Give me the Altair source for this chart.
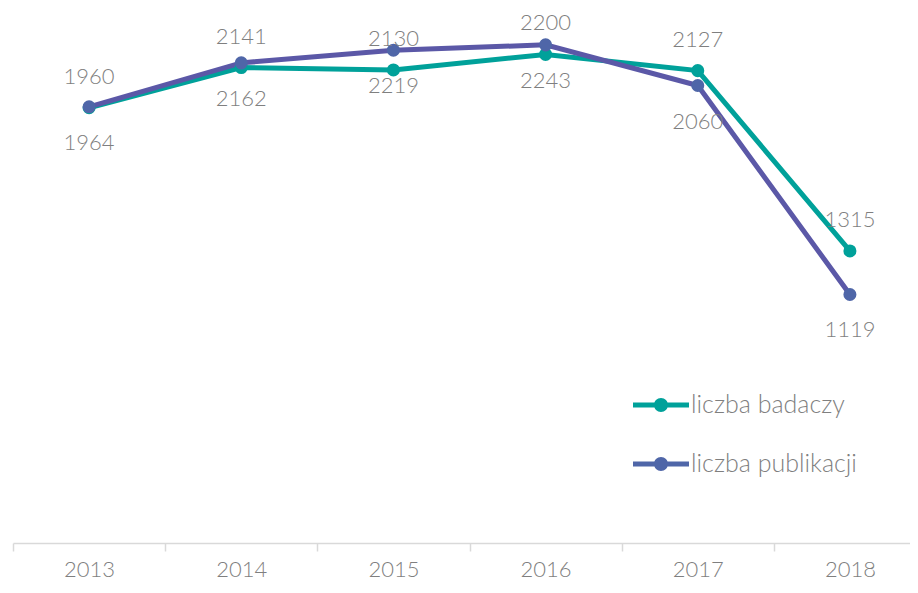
import altair as alt
import pandas as pd

years = ["2013", "2014", "2015", "2016", "2017", "2018"]
badacze = [1960, 2141, 2130, 2200, 2127, 1315]
publikacje = [1964, 2162, 2219, 2243, 2060, 1119]
series = ["liczba badaczy", "liczba publikacji"]
line_colors = ["#00A19A", "#5B58A7"]
point_colors = ["#00A19A", "#4F66A8"]

df = pd.DataFrame({
    "rok": years * 2,
    "wartosc": badacze + publikacje,
    "seria": [series[0]] * len(years) + [series[1]] * len(years),
})

FONT = "Lato"
GRAY = "#7F7F7F"

x = alt.X(
    "rok:N",
    scale=alt.Scale(type="band", paddingInner=0, paddingOuter=0, range=[0, 913]),
    bandPosition=0.5,
    axis=alt.Axis(
        title=None, labelAngle=0, tickBand="extent",
        domainColor="#D9D9D9", tickColor="#D9D9D9", tickSize=8,
        domainWidth=1.5, tickWidth=1.5,
        labelFontSize=22, labelColor=GRAY, labelFont=FONT, labelPadding=8,
        labelFontWeight=300,
    ),
)
y = alt.Y("wartosc:Q", scale=alt.Scale(domain=[0, 2400]), axis=None)

base = alt.Chart(df)

lines = base.mark_line(strokeWidth=5).encode(
    x=x, y=y,
    stroke=alt.Stroke("seria:N", scale=alt.Scale(domain=series, range=line_colors), legend=None),
)

sym = ("M-1,-0.09 H1 V0.09 H-1 Z "
       "M0.25,0 A0.25,0.25 0 1,1 -0.25,0 A0.25,0.25 0 1,1 0.25,0 Z")

points = base.transform_calculate(leg="datum.seria").mark_point(
    filled=True, size=170, opacity=1, shape="circle"
).encode(
    x=x, y=y,
    fill=alt.Fill(
        "leg:N",
        scale=alt.Scale(domain=series, range=point_colors),
        legend=alt.Legend(
            title=None, orient="none", legendX=620, legendY=367,
            symbolType=sym, symbolSize=3136, symbolStrokeWidth=0,
            labelFontSize=25, labelColor=GRAY, labelFont=FONT, labelFontWeight=300,
            labelOffset=2, rowPadding=18, labelLimit=400,
        ),
    ),
)

labels_top = base.transform_filter(alt.datum.seria == series[0]).mark_text(
    dy=-31, fontSize=22, font=FONT, fontWeight=300, color=GRAY
).encode(x=x, y=y, text="wartosc:Q")

labels_bottom = base.transform_filter(alt.datum.seria == series[1]).mark_text(
    dy=36, fontSize=22, font=FONT, fontWeight=300, color=GRAY
).encode(x=x, y=y, text="wartosc:Q")

chart = alt.layer(lines, points, labels_top, labels_bottom).resolve_scale(
    stroke="independent", fill="independent"
).properties(
    width=897, height=533,
    padding={"left": 5, "top": 2, "right": 0, "bottom": 42},
    autosize=alt.AutoSizeParams(type="none"),
    background="white",
).configure_view(stroke=None)

chart.save("out.html", embed_options={"renderer": "svg", "actions": False})
